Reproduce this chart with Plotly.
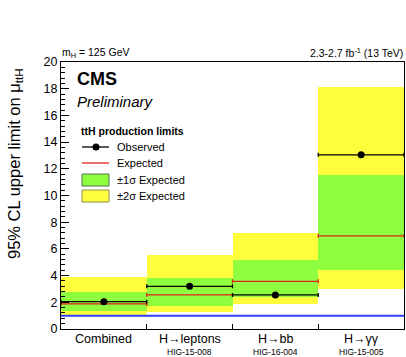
import plotly.graph_objects as go

# ttH signal-strength upper limits (95% CL), per channel
categories = ["Combined", "H→leptons", "H→bb", "H→γγ"]
analyses = ["", "HIG-15-008", "HIG-16-004", "HIG-15-005"]
observed = [2.05, 3.2, 2.55, 13.05]
expected = [1.88, 2.55, 3.57, 6.98]
band_minus2 = [1.05, 1.30, 1.90, 3.00]
band_minus1 = [1.37, 1.75, 2.42, 4.42]
band_plus1 = [2.78, 3.84, 5.17, 11.50]
band_plus2 = [3.92, 5.58, 7.20, 18.10]
sm_value = 1.0

FONT = "Liberation Sans, Arial, Helvetica, sans-serif"
YELLOW = "#fefe3c"
GREEN = "#8efe3e"
RED = "#e0201c"
BLUE = "#3040ff"

W, H = 406, 357
L, R, T, B = 61, 2, 62, 28
PW, PH = W - L - R, H - T - B

def px(xp):
    return (xp - L) / PW

def py(yp):
    return (H - B - yp) / PH

centers = [i + 0.5 for i in range(len(categories))]

fig = go.Figure()

# +-2 sigma band
fig.add_trace(go.Bar(
    x=centers, base=band_minus2,
    y=[u - d for u, d in zip(band_plus2, band_minus2)],
    width=1.0, marker=dict(color=YELLOW, line=dict(width=0)),
    showlegend=False, hoverinfo="skip"))
# +-1 sigma band
fig.add_trace(go.Bar(
    x=centers, base=band_minus1,
    y=[u - d for u, d in zip(band_plus1, band_minus1)],
    width=1.0, marker=dict(color=GREEN, line=dict(width=0)),
    showlegend=False, hoverinfo="skip"))

# SM reference line
fig.add_trace(go.Scatter(
    x=[0, len(categories)], y=[sm_value, sm_value], mode="lines",
    line=dict(color=BLUE, width=2), showlegend=False, hoverinfo="skip"))

# expected limits: horizontal line across each bin
fig.add_trace(go.Scatter(
    x=centers, y=expected, mode="markers",
    marker=dict(size=1, color=RED, opacity=0),
    error_x=dict(type="constant", value=0.5, color=RED, thickness=1.3, width=2),
    showlegend=False, hoverinfo="skip"))

# observed limits
fig.add_trace(go.Scatter(
    x=centers, y=observed, mode="markers",
    marker=dict(size=7, color="black"),
    error_x=dict(type="constant", value=0.5, color="black", thickness=1.3, width=2),
    showlegend=False, hoverinfo="skip"))

annotations = []
shapes = []

# category labels under each bin
for c, name, ana in zip(centers, categories, analyses):
    annotations.append(dict(x=c, y=py(339), xref="x", yref="paper", text=name,
                            showarrow=False, font=dict(size=12.5, family=FONT, color="black"),
                            xanchor="center", yanchor="middle"))
    if ana:
        annotations.append(dict(x=c, y=py(352), xref="x", yref="paper", text=ana,
                                showarrow=False, font=dict(size=8.5, family=FONT, color="black"),
                                xanchor="center", yanchor="middle"))

def text(xp, yp, s, size, anchor="left", **kw):
    annotations.append(dict(x=px(xp), y=py(yp), xref="paper", yref="paper", text=s,
                            showarrow=False, font=dict(size=size, family=FONT, color="black"),
                            xanchor=anchor, yanchor="middle", **kw))

# header texts
text(60, 53, "m<sub>H</sub> = 125 GeV", 10.5)
text(405, 53, "2.3-2.7 fb<sup>-1</sup> (13 TeV)", 10.5, anchor="right")
text(75, 79, "<b>CMS</b>", 18)
text(75, 101, "<i>Preliminary</i>", 15)

# y-axis title
annotations.append(dict(x=px(15), y=py(164), xref="paper", yref="paper",
                        text="95% CL upper limit on μ<sub>ttH</sub>", textangle=-90,
                        showarrow=False, font=dict(size=16.5, family=FONT, color="black"),
                        xanchor="center", yanchor="middle"))

# legend
text(79, 131, "<b>ttH production limits</b>", 10.5)
sx0, sx1 = 82, 109
shapes.append(dict(type="line", xref="paper", yref="paper", x0=px(sx0), x1=px(sx1),
                   y0=py(147), y1=py(147), line=dict(color="black", width=1.3)))
shapes.append(dict(type="circle", xref="paper", yref="paper", x0=px(92.5), x1=px(99.5),
                   y0=py(150.5), y1=py(143.5), fillcolor="black", line=dict(color="black", width=0)))
text(115, 147, "Observed", 11)
shapes.append(dict(type="line", xref="paper", yref="paper", x0=px(sx0), x1=px(sx1),
                   y0=py(163), y1=py(163), line=dict(color=RED, width=1.3)))
text(115, 163, "Expected", 11)
shapes.append(dict(type="rect", xref="paper", yref="paper", x0=px(sx0), x1=px(sx1),
                   y0=py(186), y1=py(174), fillcolor=GREEN, line=dict(color="#507050", width=1)))
text(115, 180, "±1σ Expected", 11)
shapes.append(dict(type="rect", xref="paper", yref="paper", x0=px(sx0), x1=px(sx1),
                   y0=py(202), y1=py(190), fillcolor=YELLOW, line=dict(color="#909050", width=1)))
text(115, 196, "±2σ Expected", 11)

fig.update_layout(
    width=W, height=H,
    margin=dict(l=L, r=R, t=T, b=B, pad=0),
    paper_bgcolor="white", plot_bgcolor="white",
    barmode="overlay", bargap=0,
    font=dict(family=FONT, size=12, color="black"),
    annotations=annotations, shapes=shapes,
    xaxis=dict(range=[0, len(categories)], tickvals=[1, 2, 3], showticklabels=False,
               ticks="inside", ticklen=5, tickcolor="black", tickwidth=1,
               showgrid=False, zeroline=False, showline=True, linecolor="black",
               linewidth=1, mirror=True, fixedrange=True),
    yaxis=dict(range=[0, 20], dtick=2, tick0=0, ticks="inside", ticklen=8,
               tickcolor="black", tickwidth=1,
               minor=dict(dtick=0.4, ticks="inside", ticklen=4, tickcolor="black", tickwidth=1),
               tickfont=dict(size=12.5, family=FONT, color="black"),
               showgrid=False, zeroline=False, showline=True, linecolor="black",
               linewidth=1, mirror=True, fixedrange=True),
)

fig.write_html("out.html", config=dict(displayModeBar=False))
